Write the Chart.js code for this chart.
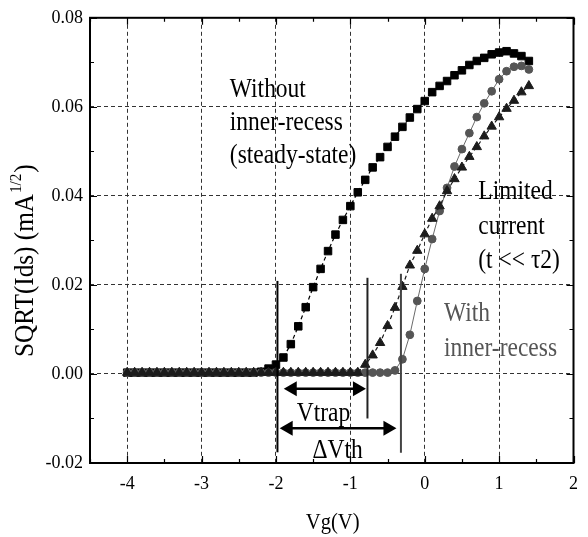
<!DOCTYPE html>
<html lang="en">
<head>
<meta charset="UTF-8">
<title>SQRT(Ids) vs Vg</title>
<script src="https://cdn.jsdelivr.net/npm/chart.js"></script>
<style>
  html, body { margin: 0; padding: 0; background: #fff; }
  #wrap { width: 588px; height: 537px; }
</style>
</head>
<body>
<div id="wrap"><canvas id="ivChart" width="588" height="537"></canvas></div>
<script>
// gate voltage sweep (V)
const vg = [
  -4.0, -3.9, -3.8, -3.7, -3.6, -3.5, -3.4, -3.3, -3.2, -3.1,
  -3.0, -2.9, -2.8, -2.7, -2.6, -2.5, -2.4, -2.3, -2.2, -2.1,
  -2.0, -1.9, -1.8, -1.7, -1.6, -1.5, -1.4, -1.3, -1.2, -1.1,
  -1.0, -0.9, -0.8, -0.7, -0.6, -0.5, -0.4, -0.3, -0.2, -0.1,
  0.0, 0.1, 0.2, 0.3, 0.4, 0.5, 0.6, 0.7, 0.8, 0.9,
  1.0, 1.1, 1.2, 1.3, 1.4
];

// without inner-recess, steady state (squares)
const steadyState = [
  0.0003, 0.0003, 0.0003, 0.0003, 0.0003, 0.0003, 0.0003, 0.0003, 0.0003, 0.0003,
  0.0003, 0.0003, 0.0003, 0.0003, 0.0003, 0.0003, 0.0003, 0.0003, 0.0005, 0.0012,
  0.0021, 0.0037, 0.0067, 0.0107, 0.0150, 0.0195, 0.0236, 0.0276, 0.0313, 0.0346,
  0.0377, 0.0408, 0.0436, 0.0464, 0.0487, 0.0510, 0.0533, 0.0555, 0.0576, 0.0595,
  0.0613, 0.0633, 0.0647, 0.0658, 0.0671, 0.0682, 0.0694, 0.0703, 0.0710, 0.0718,
  0.0722, 0.0725, 0.0720, 0.0714, 0.0703
];

// with inner-recess (circles)
const innerRecess = [
  0.0003, 0.0003, 0.0003, 0.0003, 0.0003, 0.0003, 0.0003, 0.0003, 0.0003, 0.0003,
  0.0003, 0.0003, 0.0003, 0.0003, 0.0003, 0.0003, 0.0003, 0.0003, 0.0003, 0.0003,
  0.0003, 0.0003, 0.0003, 0.0003, 0.0003, 0.0003, 0.0003, 0.0003, 0.0003, 0.0003,
  0.0003, 0.0003, 0.0003, 0.0003, 0.0003, 0.0003, 0.0008, 0.0033, 0.0088, 0.0164,
  0.0236, 0.0303, 0.0366, 0.0418, 0.0466, 0.0505, 0.0541, 0.0577, 0.0608, 0.0635,
  0.0662, 0.0680, 0.0690, 0.0692, 0.0684
];

// limited current, t << tau2 (triangles)
const limitedCurrent = [
  0.0003, 0.0003, 0.0003, 0.0003, 0.0003, 0.0003, 0.0003, 0.0003, 0.0003, 0.0003,
  0.0003, 0.0003, 0.0003, 0.0003, 0.0003, 0.0003, 0.0003, 0.0003, 0.0003, 0.0003,
  0.0003, 0.0003, 0.0003, 0.0003, 0.0003, 0.0003, 0.0003, 0.0003, 0.0003, 0.0003,
  0.0003, 0.0003, 0.0021, 0.0042, 0.0070, 0.0108, 0.0149, 0.0196, 0.0244, 0.0277,
  0.0314, 0.0349, 0.0377, 0.0411, 0.0438, 0.0464, 0.0488, 0.0510, 0.0534, 0.0556,
  0.0577, 0.0596, 0.0614, 0.0633, 0.0647
];

const xTicks = [-4, -3, -2, -1, 0, 1, 2];
const yTicks = [-0.02, 0.00, 0.02, 0.04, 0.06, 0.08];

const SERIF = '"Liberation Serif", "Times New Roman", serif';

const pts = ys => vg.map((v, i) => ({ x: v, y: ys[i] }));

// threshold markers, arrows and notes (data units)
const cursorLines = [
  { x: -1.98, top: 0.0209, bottom: -0.0176, color: '#000' },
  { x: -0.77, top: 0.0216, bottom: -0.0100, color: '#222' },
  { x: -0.32, top: 0.0225, bottom: -0.0177, color: '#444' }
];
const arrows = [
  { from: -1.895, to: -0.79, y: -0.0033 },
  { from: -1.95, to: -0.38, y: -0.0122 }
];
const notes = [
  { text: 'Without', x: -2.62, y: 0.0623, color: '#000' },
  { text: 'inner-recess', x: -2.62, y: 0.0547, color: '#000' },
  { text: '(steady-state)', x: -2.62, y: 0.0473, color: '#000' },
  { text: 'Limited', x: 0.72, y: 0.0393, color: '#000' },
  { text: 'current', x: 0.72, y: 0.0315, color: '#000' },
  { text: '(t << \u03c42)', x: 0.72, y: 0.0237, color: '#000' },
  { text: 'With', x: 0.26, y: 0.0118, color: '#555' },
  { text: 'inner-recess', x: 0.26, y: 0.0040, color: '#555' },
  { text: 'Vtrap', x: -1.72, y: -0.0105, color: '#000' },
  { text: '\u0394Vth', x: -1.51, y: -0.0188, color: '#000' }
];

function squeezedText(ctx, text, px, py, size, color, sx) {
  ctx.save();
  ctx.font = size + 'px ' + SERIF;
  ctx.fillStyle = color;
  ctx.textBaseline = 'alphabetic';
  ctx.textAlign = 'left';
  ctx.translate(px, py);
  ctx.scale(sx, 1);
  ctx.fillText(text, 0, 0);
  ctx.restore();
}

function arrowHead(ctx, tipX, y, dir) {
  ctx.beginPath();
  ctx.moveTo(tipX, y);
  ctx.lineTo(tipX - dir * 13, y - 7.5);
  ctx.lineTo(tipX - dir * 13, y + 7.5);
  ctx.closePath();
  ctx.fill();
}

const frameAndNotes = {
  id: 'frameAndNotes',
  afterDatasetsDraw(chart) {
    const { ctx, chartArea: a, scales: { x, y } } = chart;
    ctx.save();

    // frame
    ctx.strokeStyle = '#000';
    ctx.lineWidth = 2;
    ctx.strokeRect(a.left, a.top, a.right - a.left, a.bottom - a.top);

    // inward ticks on all four sides, minor ones at half steps
    ctx.lineWidth = 1.2;
    ctx.beginPath();
    for (let v = -4.5; v <= 2.001; v += 0.5) {
      const px = Math.round(x.getPixelForValue(v)) + 0.5;
      const len = Math.abs(v - Math.round(v)) < 0.01 ? 7 : 4;
      ctx.moveTo(px, a.bottom); ctx.lineTo(px, a.bottom - len);
      ctx.moveTo(px, a.top); ctx.lineTo(px, a.top + len);
    }
    for (let k = -2; k <= 8; k++) {
      const py = Math.round(y.getPixelForValue(k / 100)) + 0.5;
      const len = k % 2 === 0 ? 7 : 4;
      ctx.moveTo(a.left, py); ctx.lineTo(a.left + len, py);
      ctx.moveTo(a.right, py); ctx.lineTo(a.right - len, py);
    }
    ctx.stroke();

    // threshold markers
    cursorLines.forEach(l => {
      const px = x.getPixelForValue(l.x);
      ctx.strokeStyle = l.color;
      ctx.lineWidth = 2;
      ctx.beginPath();
      ctx.moveTo(px, y.getPixelForValue(l.top));
      ctx.lineTo(px, y.getPixelForValue(l.bottom));
      ctx.stroke();
    });

    // double-headed arrows
    ctx.strokeStyle = '#000';
    ctx.fillStyle = '#000';
    arrows.forEach(ar => {
      const x1 = x.getPixelForValue(ar.from);
      const x2 = x.getPixelForValue(ar.to);
      const py = y.getPixelForValue(ar.y);
      ctx.lineWidth = 2.5;
      ctx.beginPath();
      ctx.moveTo(x1 + 10, py);
      ctx.lineTo(x2 - 10, py);
      ctx.stroke();
      arrowHead(ctx, x1, py, -1);
      arrowHead(ctx, x2, py, 1);
    });

    // notes
    notes.forEach(n => {
      squeezedText(ctx, n.text, x.getPixelForValue(n.x), y.getPixelForValue(n.y), 27, n.color, 0.87);
    });

    // axis titles
    squeezedText(ctx, 'Vg(V)', (a.left + a.right) / 2 - 26, 529, 24, '#000', 0.86);

    ctx.translate(33, 357);
    ctx.rotate(-Math.PI / 2);
    ctx.scale(0.9, 1);
    ctx.fillStyle = '#000';
    ctx.textBaseline = 'alphabetic';
    ctx.textAlign = 'left';
    ctx.font = '28px ' + SERIF;
    const main = 'SQRT(Ids) (mA';
    ctx.fillText(main, 0, 0);
    let w = ctx.measureText(main).width;
    ctx.font = '17px ' + SERIF;
    ctx.fillText('1/2', w + 1, -12);
    w += 1 + ctx.measureText('1/2').width;
    ctx.font = '28px ' + SERIF;
    ctx.fillText(')', w + 1, 0);

    ctx.restore();
  }
};

const tickFont = { family: SERIF, size: 18 };

new Chart(document.getElementById('ivChart'), {
  type: 'line',
  data: {
    datasets: [
      {
        label: 'Limited current',
        data: pts(limitedCurrent),
        borderColor: '#1c1c1c',
        backgroundColor: '#1c1c1c',
        borderWidth: 1.2,
        borderDash: [4, 3],
        pointStyle: 'triangle',
        pointRadius: 5.4,
        pointBorderWidth: 1
      },
      {
        label: 'With inner-recess',
        data: pts(innerRecess),
        borderColor: '#6a6a6a',
        backgroundColor: '#555',
        pointBorderColor: '#555',
        borderWidth: 1,
        pointStyle: 'circle',
        pointRadius: 3.9,
        pointBorderWidth: 1
      },
      {
        label: 'Without inner-recess',
        data: pts(steadyState),
        borderColor: '#000',
        backgroundColor: '#000',
        borderWidth: 1.2,
        borderDash: [4, 3],
        pointStyle: 'rect',
        pointRadius: 5.3,
        pointBorderWidth: 1
      }
    ]
  },
  options: {
    responsive: false,
    animation: false,
    events: [],
    layout: { padding: { left: 0, right: 5, top: 15, bottom: 0 } },
    plugins: { legend: { display: false }, tooltip: { enabled: false } },
    elements: { line: { tension: 0 } },
    scales: {
      x: {
        type: 'linear',
        min: -4.5,
        max: 2,
        afterBuildTicks: s => { s.ticks = xTicks.map(v => ({ value: v })); },
        afterFit: s => { s.height = 74; },
        ticks: {
          font: tickFont,
          color: '#000',
          padding: 10,
          autoSkip: false,
          maxRotation: 0,
          callback: v => String(v)
        },
        grid: {
          drawTicks: false,
          lineWidth: 1,
          color: c => (c.tick && c.tick.value > -4.5 && c.tick.value < 2) ? '#333' : 'rgba(0,0,0,0)'
        },
        border: { display: false, dash: [4, 3] }
      },
      y: {
        min: -0.02,
        max: 0.08,
        afterBuildTicks: s => { s.ticks = yTicks.map(v => ({ value: v })); },
        afterFit: s => { s.width = 90; },
        ticks: {
          font: tickFont,
          color: '#000',
          padding: 7,
          autoSkip: false,
          callback: v => Number(v).toFixed(2)
        },
        grid: {
          drawTicks: false,
          lineWidth: 1,
          color: c => (c.tick && c.tick.value > -0.015 && c.tick.value < 0.075) ? '#333' : 'rgba(0,0,0,0)'
        },
        border: { display: false, dash: [4, 3] }
      }
    }
  },
  plugins: [frameAndNotes]
});
</script>
</body>
</html>
